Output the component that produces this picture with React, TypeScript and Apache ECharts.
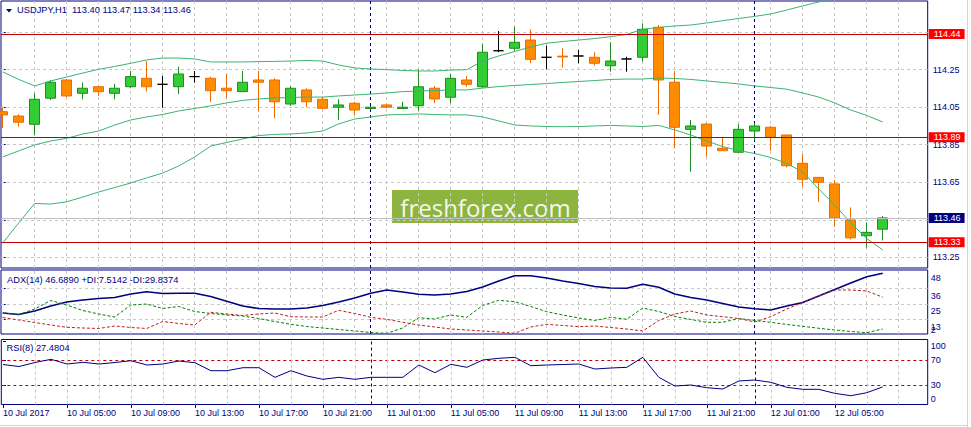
import React, { useEffect, useRef } from 'react';
import * as echarts from 'echarts';

// ---------- data (H1 bars, bar 0 = 10 Jul 2017 01:00) ----------
const TIME_LABELS = ['10 Jul 2017', '10 Jul 05:00', '10 Jul 09:00', '10 Jul 13:00', '10 Jul 17:00', '10 Jul 21:00', '11 Jul 01:00', '11 Jul 05:00', '11 Jul 09:00', '11 Jul 13:00', '11 Jul 17:00', '11 Jul 21:00', '12 Jul 01:00', '12 Jul 05:00'];
const LABEL_EVERY = 4;
const DAY_BREAKS = [23, 47];

const OPEN = [114.026, 114.003, 113.959, 114.098, 114.195, 114.124, 114.159, 114.124, 114.159, 114.204, 114.172, 114.159, 114.213, 114.204, 114.151, 114.133, 114.195, 114.195, 114.067, 114.142, 114.092, 114.050, 114.071, 114.043, 114.062, 114.043, 114.058, 114.151, 114.103, 114.195, 114.159, 114.351, 114.364, 114.408, 114.316, 114.322, 114.323, 114.316, 114.271, 114.307, 114.316, 114.476, 114.183, 113.932, 113.960, 113.831, 113.810, 113.923, 113.943, 113.902, 113.751, 113.676, 113.641, 113.449, 113.365, 113.400];
const HIGH = [114.050, 114.012, 114.124, 114.195, 114.200, 114.181, 114.163, 114.174, 114.243, 114.296, 114.216, 114.266, 114.243, 114.213, 114.227, 114.243, 114.243, 114.204, 114.163, 114.151, 114.106, 114.092, 114.079, 114.056, 114.067, 114.079, 114.252, 114.163, 114.227, 114.216, 114.387, 114.456, 114.479, 114.465, 114.378, 114.364, 114.355, 114.343, 114.396, 114.319, 114.497, 114.488, 114.243, 113.982, 113.966, 113.890, 113.960, 113.964, 113.950, 113.902, 113.800, 113.676, 113.662, 113.516, 113.436, 113.470];
const LOW = [113.940, 113.946, 113.902, 114.088, 114.103, 114.092, 114.110, 114.092, 114.151, 114.133, 114.047, 114.120, 114.181, 114.079, 114.098, 114.133, 114.031, 113.991, 114.057, 114.050, 114.040, 113.982, 114.009, 114.038, 114.045, 114.043, 114.031, 114.071, 114.071, 114.159, 114.151, 114.343, 114.351, 114.284, 114.252, 114.261, 114.284, 114.271, 114.239, 114.239, 114.293, 114.009, 113.831, 113.706, 113.786, 113.818, 113.810, 113.875, 113.818, 113.729, 113.626, 113.546, 113.413, 113.345, 113.301, 113.340];
const CLOSE = [114.009, 113.970, 114.092, 114.183, 114.110, 114.151, 114.133, 114.151, 114.213, 114.159, 114.172, 114.227, 114.213, 114.138, 114.138, 114.183, 114.183, 114.079, 114.151, 114.079, 114.044, 114.062, 114.035, 114.050, 114.050, 114.050, 114.159, 114.094, 114.204, 114.172, 114.343, 114.351, 114.396, 114.305, 114.316, 114.318, 114.323, 114.284, 114.296, 114.307, 114.465, 114.195, 113.943, 113.950, 113.843, 113.818, 113.932, 113.950, 113.890, 113.738, 113.666, 113.650, 113.458, 113.354, 113.383, 113.460];

const BB_UPPER = [114.238, 114.198, 114.163, 114.190, 114.211, 114.232, 114.252, 114.267, 114.284, 114.302, 114.312, 114.312, 114.307, 114.291, 114.291, 114.291, 114.293, 114.294, 114.296, 114.299, 114.296, 114.275, 114.259, 114.254, 114.250, 114.246, 114.243, 114.243, 114.248, 114.250, 114.296, 114.323, 114.347, 114.371, 114.391, 114.400, 114.408, 114.416, 114.426, 114.438, 114.465, 114.475, 114.483, 114.488, 114.499, 114.511, 114.523, 114.534, 114.547, 114.568, 114.590, 114.611, 114.627, 114.643, 114.659, 114.664];
const BB_MIDDLE = [113.785, 113.817, 113.849, 113.870, 113.884, 113.907, 113.923, 113.955, 113.982, 113.998, 114.011, 114.030, 114.043, 114.057, 114.073, 114.086, 114.094, 114.099, 114.102, 114.104, 114.104, 114.110, 114.115, 114.120, 114.126, 114.133, 114.136, 114.139, 114.142, 114.142, 114.152, 114.160, 114.166, 114.171, 114.176, 114.182, 114.187, 114.192, 114.198, 114.200, 114.200, 114.206, 114.203, 114.198, 114.190, 114.182, 114.174, 114.163, 114.155, 114.146, 114.126, 114.104, 114.073, 114.035, 114.006, 113.971];
const BB_LOWER = [113.326, 113.433, 113.537, 113.534, 113.546, 113.571, 113.598, 113.622, 113.646, 113.673, 113.699, 113.737, 113.785, 113.843, 113.862, 113.881, 113.899, 113.905, 113.907, 113.913, 113.923, 113.961, 113.987, 113.998, 114.009, 114.011, 114.014, 114.011, 114.009, 114.009, 113.998, 113.977, 113.955, 113.950, 113.947, 113.946, 113.947, 113.950, 113.953, 113.950, 113.947, 113.953, 113.929, 113.902, 113.870, 113.840, 113.819, 113.803, 113.782, 113.750, 113.705, 113.614, 113.529, 113.433, 113.350, 113.289];

const ADX = [18.74, 17.69, 20.15, 23.66, 26.47, 27.87, 28.92, 29.63, 32.08, 33.70, 32.43, 32.57, 32.57, 30.33, 26.96, 23.66, 21.90, 21.55, 21.55, 22.25, 24.01, 26.47, 29.27, 32.57, 34.89, 33.49, 31.87, 31.38, 32.08, 33.84, 37.00, 41.21, 44.93, 44.93, 43.32, 41.21, 39.46, 37.35, 36.30, 36.09, 38.90, 36.80, 32.08, 29.63, 27.87, 25.41, 22.95, 21.76, 20.85, 23.66, 26.11, 30.68, 35.24, 39.81, 44.23, 46.689];
const PLUS_DI = [18.74, 17.69, 21.55, 27.52, 24.36, 20.50, 18.04, 15.93, 24.36, 25.06, 21.90, 23.31, 19.79, 18.39, 17.34, 16.63, 14.88, 12.77, 10.81, 9.26, 8.21, 7.15, 6.10, 5.05, 4.48, 8.21, 15.44, 14.53, 17.34, 15.72, 24.01, 27.66, 26.68, 23.31, 19.65, 17.34, 15.23, 13.47, 15.72, 14.32, 22.25, 19.79, 16.28, 14.18, 12.21, 12.21, 14.88, 13.47, 12.21, 10.66, 9.40, 8.00, 6.80, 5.75, 4.91, 7.5142];
const MINUS_DI = [15.58, 13.82, 12.07, 10.31, 8.70, 8.21, 7.86, 9.61, 8.56, 7.86, 12.77, 11.37, 10.31, 19.23, 18.04, 16.99, 18.04, 18.74, 16.14, 15.93, 15.93, 20.64, 18.39, 15.72, 14.32, 12.21, 10.31, 8.91, 7.50, 6.80, 6.10, 5.40, 4.48, 8.91, 10.81, 9.96, 9.12, 9.61, 8.56, 7.50, 6.10, 13.47, 18.04, 20.15, 17.34, 16.14, 14.88, 12.42, 16.14, 21.55, 26.11, 30.68, 34.89, 34.89, 34.19, 29.8374];
const RSI = [63.28, 60.08, 66.48, 71.6, 64.08, 66.8, 64.08, 66.48, 69.36, 62.48, 64.08, 68.88, 66.16, 53.36, 53.36, 58.16, 58.16, 42.8, 53.36, 44.88, 39.6, 42.8, 39.6, 42.8, 42.8, 42.8, 62.48, 50.16, 63.6, 58.8, 70.48, 73.2, 74.8, 61.36, 62.48, 63.28, 64.08, 56.08, 57.68, 58.8, 74.8, 42.8, 28.88, 30.48, 26.16, 24.08, 36.88, 38.48, 34.8, 26.8, 23.6, 23.6, 17.2, 13.36, 18.16, 27.4804];

// price levels & tick labels
const LEVELS = [114.44, 113.89, 113.33];
const BID = 113.46;
const PRICE_GRID = [114.45, 114.25, 114.05, 113.85, 113.65, 113.45, 113.25];
const PRICE_LABELS = [114.25, 114.05, 113.85, 113.65, 113.25];
const ADX_GRID = [14.0, 25.1, 35.8];
const ADX_TICK_TEXT = ['2', '13', '25', '36', '48'];
const RSI_LEVELS = [70, 30];
const RSI_TICKS = [0, 30, 70, 100];

// ---------- styles / layout ----------
const FONT = "'Liberation Sans', Arial, sans-serif";
const NAVY = '#000080';
const GRID_GRAY = '#C8C8C8';
const BB_COLOR = '#3CB371';
const BULL_FILL = '#32CD32';
const BULL_LINE = '#1E8C1E';
const BEAR_FILL = '#FF8C00';
const BEAR_LINE = '#EE6A00';
const DOJI = '#000000';
const LEVEL_RED = '#C00000';

const X_MIN = -0.106;
const X_MAX = 57.81;
const PRICE_MIN = 113.193;
const PRICE_MAX = 114.616;
const ADX_MIN = 3.99;
const ADX_MAX = 48.94;
const RSI_MIN = -0.7;
const RSI_MAX = 103.3;

export default function App() {
  const ref = useRef<HTMLDivElement>(null);

  useEffect(() => {
    if (!ref.current) return;
    const chart = echarts.init(ref.current, undefined, { renderer: 'svg' });

    const n = CLOSE.length;
    const bars = CLOSE.map((_, i) => i);
    const vGrid = bars.concat([n, n + 1]).filter((i) => i > 0 && i % 2 === 0 && i < X_MAX);
    const labelBars = TIME_LABELS.map((_, i) => i * LABEL_EVERY);
    const gridLine = { color: GRID_GRAY, type: [3, 3], width: 1 };
    const sepLine = { color: NAVY, type: [3, 3], width: 1 };
    // a blank guard label sits at the very bottom so that "2" and "13" may overlap as in the original
    const adxTickAt = [ADX_MIN + 0.002, ...ADX_GRID, ADX_MAX];
    const adxLabelValues = [ADX_MIN, ...adxTickAt];

    const baseMarkLine = (data: any[], z: number) => ({
      silent: true,
      symbol: ['none', 'none'],
      z,
      animation: false,
      emphasis: { disabled: true },
      label: { show: false },
      data,
    });

    const vLines = [
      ...vGrid.map((k) => ({ xAxis: k, lineStyle: gridLine })),
      ...DAY_BREAKS.map((k) => ({ xAxis: k, lineStyle: sepLine })),
    ];

    const boxLabel = (text: string, bg: string) => ({
      show: true,
      position: 'end',
      distance: 1,
      formatter: text,
      color: '#FFFFFF',
      backgroundColor: bg,
      padding: [1, 4, 0, 5],
      fontSize: 9,
      lineHeight: 9,
      fontFamily: FONT,
    });

    const xAxis = (gridIndex: number, show: boolean) => ({
      type: 'value',
      gridIndex,
      min: X_MIN,
      max: X_MAX,
      axisLine: { show: false },
      splitLine: { show: false },
      axisTick: show
        ? { show: true, customValues: labelBars, length: 4, lineStyle: { color: NAVY } }
        : { show: false },
      axisLabel: show
        ? {
            show: true,
            customValues: labelBars,
            formatter: (v: number) => TIME_LABELS[Math.round(v / LABEL_EVERY)] ?? '',
            align: 'left',
            margin: 4,
            color: NAVY,
            fontSize: 9,
            fontFamily: FONT,
            hideOverlap: false,
          }
        : { show: false },
    });

    const labelStyle = { color: NAVY, fontSize: 9, fontFamily: FONT };

    const option: any = {
      animation: false,
      backgroundColor: '#FFFFFF',
      title: [
        {
          text: `USDJPY,H1  ${OPEN[n - 1].toFixed(2)} ${HIGH[n - 1].toFixed(2)} ${LOW[n - 1].toFixed(2)} ${CLOSE[n - 1].toFixed(2)}`,
          left: 17,
          top: 3.5,
          padding: 0,
          textStyle: { color: NAVY, fontSize: 9.3, fontWeight: 'normal', fontFamily: FONT, lineHeight: 12 },
        },
        {
          text: `ADX(14) ${ADX[n - 1].toFixed(4)} +DI:${PLUS_DI[n - 1].toFixed(4)} -DI:${MINUS_DI[n - 1].toFixed(4)}`,
          left: 7,
          top: 274.3,
          padding: 0,
          textStyle: { color: NAVY, fontSize: 9.3, fontWeight: 'normal', fontFamily: FONT, lineHeight: 12 },
        },
        {
          text: `RSI(8) ${RSI[n - 1].toFixed(4)}`,
          left: 6.5,
          top: 342.3,
          padding: 0,
          textStyle: { color: NAVY, fontSize: 9.3, fontWeight: 'normal', fontFamily: FONT, lineHeight: 12 },
        },
      ],
      grid: [
        { left: 1, top: 1, width: 926.7, height: 267, show: true, borderColor: NAVY, borderWidth: 1, backgroundColor: 'transparent' },
        { left: 1, top: 270, width: 926.7, height: 64, show: true, borderColor: NAVY, borderWidth: 1, backgroundColor: 'transparent' },
        { left: 1, top: 339.5, width: 926.7, height: 65, show: true, borderColor: NAVY, borderWidth: 1, backgroundColor: 'transparent' },
      ],
      xAxis: [xAxis(0, false), xAxis(1, false), xAxis(2, true)],
      yAxis: [
        {
          type: 'value',
          gridIndex: 0,
          position: 'right',
          min: PRICE_MIN,
          max: PRICE_MAX,
          axisLine: { show: false },
          splitLine: { show: false },
          axisTick: { show: true, customValues: PRICE_GRID, length: 3, lineStyle: { color: NAVY } },
          axisLabel: { customValues: PRICE_LABELS, formatter: (v: number) => v.toFixed(2), margin: 5, hideOverlap: false, ...labelStyle },
        },
        {
          type: 'value',
          gridIndex: 1,
          position: 'right',
          min: ADX_MIN,
          max: ADX_MAX,
          axisLine: { show: false },
          splitLine: { show: false },
          axisTick: { show: true, customValues: ADX_GRID, length: 3, lineStyle: { color: NAVY } },
          axisLabel: {
            customValues: adxLabelValues,
            margin: 3,
            hideOverlap: false,
            ...labelStyle,
            formatter: (v: number) => {
              const i = adxTickAt.findIndex((t) => Math.abs(t - v) < 1e-6);
              if (i < 0) return '';
              const text = ADX_TICK_TEXT[i];
              return i === 0 ? `{up|${text}}` : `{dn|${text}}`;
            },
            rich: {
              dn: { ...labelStyle, padding: [15, 0, 0, 0] },
              up: { ...labelStyle, padding: [0, 0, 7, 0] },
            },
          },
        },
        {
          type: 'value',
          gridIndex: 2,
          position: 'right',
          min: RSI_MIN,
          max: RSI_MAX,
          axisLine: { show: false },
          splitLine: { show: false },
          axisTick: { show: true, customValues: RSI_TICKS, length: 3, lineStyle: { color: NAVY } },
          axisLabel: {
            customValues: RSI_TICKS,
            margin: 3,
            showMinLabel: true,
            showMaxLabel: true,
            hideOverlap: false,
            ...labelStyle,
            formatter: (v: number) => {
              const t = String(Math.round(v));
              if (v >= 99) return `{dn|${t}}`;
              if (v <= 1) return `{up|${t}}`;
              return `{mid|${t}}`;
            },
            rich: {
              dn: { ...labelStyle, padding: [9, 0, 0, 0] },
              up: { ...labelStyle, padding: [0, 0, 10, 0] },
              mid: { ...labelStyle },
            },
          },
        },
      ],
      series: [
        {
          name: 'USDJPY',
          type: 'candlestick',
          xAxisIndex: 0,
          yAxisIndex: 0,
          z: 2,
          barWidth: 10,
          silent: true,
          itemStyle: {
            color: BULL_FILL,
            color0: BEAR_FILL,
            borderColor: BULL_LINE,
            borderColor0: BEAR_LINE,
            borderColorDoji: DOJI,
            borderWidth: 1,
          },
          data: OPEN.map((o, i) => {
            const item: any = { value: [i, o, CLOSE[i], LOW[i], HIGH[i]] };
            if (o === CLOSE[i]) {
              item.itemStyle = { color: DOJI, color0: DOJI, borderColor: DOJI, borderColor0: DOJI, borderColorDoji: DOJI };
            }
            return item;
          }),
          markLine: baseMarkLine(
            [...PRICE_GRID.map((v) => ({ yAxis: v, lineStyle: gridLine })), ...vLines],
            1
          ),
        },
        {
          name: 'BB upper',
          type: 'line',
          xAxisIndex: 0,
          yAxisIndex: 0,
          z: 3,
          silent: true,
          showSymbol: false,
          symbol: 'none',
          lineStyle: { color: BB_COLOR, width: 1 },
          data: BB_UPPER.map((v, i) => [i, v]),
        },
        {
          name: 'BB middle',
          type: 'line',
          xAxisIndex: 0,
          yAxisIndex: 0,
          z: 3,
          clip: false,
          silent: true,
          showSymbol: false,
          symbol: 'none',
          lineStyle: { color: BB_COLOR, width: 1 },
          data: BB_MIDDLE.map((v, i) => [i, v]),
          markLine: baseMarkLine(
            [
              { yAxis: BID, lineStyle: { color: '#C0C0C0', type: 'solid', width: 1 }, label: boxLabel(BID.toFixed(2), NAVY) },
              ...LEVELS.map((v) => ({
                yAxis: v,
                lineStyle: { color: LEVEL_RED, type: 'solid', width: 1 },
                label: boxLabel(v.toFixed(2), '#FF0000'),
              })),
            ],
            4
          ),
        },
        {
          name: 'BB lower',
          type: 'line',
          xAxisIndex: 0,
          yAxisIndex: 0,
          z: 3,
          silent: true,
          showSymbol: false,
          symbol: 'none',
          lineStyle: { color: BB_COLOR, width: 1 },
          data: BB_LOWER.map((v, i) => [i, v]),
        },
        {
          name: 'ADX',
          type: 'line',
          xAxisIndex: 1,
          yAxisIndex: 1,
          z: 3,
          silent: true,
          showSymbol: false,
          symbol: 'none',
          lineStyle: { color: NAVY, width: 1.6 },
          data: ADX.map((v, i) => [i, v]),
          markLine: baseMarkLine([...ADX_GRID.map((v) => ({ yAxis: v, lineStyle: gridLine })), ...vLines], 1),
        },
        {
          name: '+DI',
          type: 'line',
          xAxisIndex: 1,
          yAxisIndex: 1,
          z: 3,
          silent: true,
          showSymbol: false,
          symbol: 'none',
          lineStyle: { color: '#008000', width: 1, type: [3, 2] },
          data: PLUS_DI.map((v, i) => [i, v]),
        },
        {
          name: '-DI',
          type: 'line',
          xAxisIndex: 1,
          yAxisIndex: 1,
          z: 3,
          silent: true,
          showSymbol: false,
          symbol: 'none',
          lineStyle: { color: '#C02020', width: 1, type: [3, 2] },
          data: MINUS_DI.map((v, i) => [i, v]),
        },
        {
          name: 'RSI',
          type: 'line',
          xAxisIndex: 2,
          yAxisIndex: 2,
          z: 3,
          silent: true,
          showSymbol: false,
          symbol: 'none',
          lineStyle: { color: NAVY, width: 1 },
          data: RSI.map((v, i) => [i, v]),
          markLine: baseMarkLine(
            [...RSI_LEVELS.map((v) => ({ yAxis: v, lineStyle: { color: LEVEL_RED, type: [3, 3], width: 1 } })), ...vLines],
            1
          ),
        },
      ],
      graphic: [
        {
          type: 'polygon',
          z: 10,
          shape: { points: [[6, 9], [12, 9], [9, 12.5]] },
          style: { fill: NAVY },
        },
        {
          type: 'group',
          z: 10,
          children: [
            { type: 'rect', shape: { x: 392, y: 190, width: 186, height: 33 }, style: { fill: '#8CB43F' } },
            {
              type: 'text',
              x: 485.5,
              y: 207,
              style: {
                text: 'freshforex.com',
                fill: '#F4F8EC',
                fontSize: 24,
                fontFamily: "'Open Sans', 'Noto Sans', sans-serif",
                align: 'center',
                verticalAlign: 'middle',
                textAlign: 'center',
                textVerticalAlign: 'middle',
              },
            },
          ],
        },
        { type: 'line', z: 10, shape: { x1: 967.5, y1: 0, x2: 967.5, y2: 427 }, style: { stroke: '#D4D4D4', lineWidth: 1 } },
        { type: 'line', z: 10, shape: { x1: 0, y1: 425.5, x2: 968, y2: 425.5 }, style: { stroke: '#D4D4D4', lineWidth: 1 } },
      ],
    };

    chart.setOption(option);
    return () => chart.dispose();
  }, []);

  return (
    <div
      ref={ref}
      style={{ position: 'absolute', left: 0, top: 0, width: 971, height: 427, background: '#FFFFFF' }}
    />
  );
}
